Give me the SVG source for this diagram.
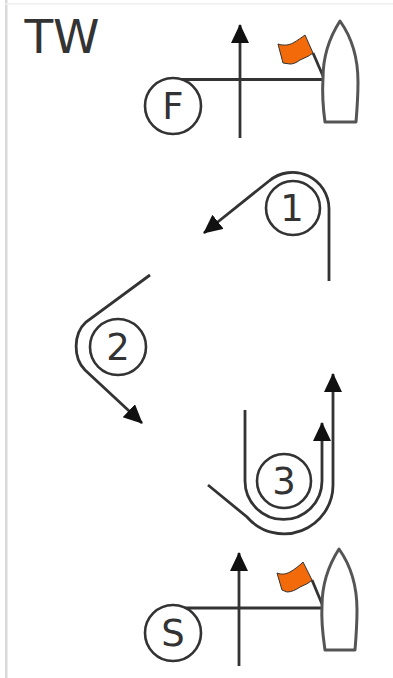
<svg xmlns="http://www.w3.org/2000/svg" width="393" height="678" viewBox="0 0 393 678">
<style>
.l{fill:none;stroke:#333;stroke-width:2.8;stroke-linecap:butt}
.b{fill:#fff;stroke:#555;stroke-width:3;stroke-linejoin:round}
.c{fill:#fff;stroke:#333;stroke-width:2.6}
.fl{fill:#f26a0a;stroke:#333;stroke-width:1;stroke-linejoin:round}
.t{font-family:"DejaVu Sans",Verdana,sans-serif;fill:#333;text-anchor:middle}
.n{font-size:37px}
</style>
<defs>
<marker id="a" markerUnits="userSpaceOnUse" markerWidth="20" markerHeight="20" refX="18" refY="9" orient="auto">
<path d="M0,0 L19,9 L0,18 Z" fill="#111"/>
</marker>
</defs>
<rect width="393" height="678" fill="#fff"/>
<rect x="5" y="0" width="2.5" height="678" fill="#d9d9d9"/>
<rect x="5" y="3" width="388" height="1.5" fill="#f0f0f0"/>
<text id="title" class="t" x="62" y="53" font-size="47">TW</text>
<g id="connectors">
<path class="l" d="M240,138 V25" marker-end="url(#a)"/>
<path class="l" d="M165,79.5 H323"/>
<path class="l" d="M329,281 V209 A36.5,36.5 0 0 0 269,181 L204,233" marker-end="url(#a)"/>
<path class="l" d="M150,275 L86,322 C73,334 73,358 85,370 L142,423" marker-end="url(#a)"/>
<path class="l" d="M245,410 V481 A38.5,38.5 0 0 0 322,481 V423" marker-end="url(#a)"/>
<path class="l" d="M208,485 L247,517 A49,49 0 0 0 333,484 V374" marker-end="url(#a)"/>
<path class="l" d="M239,666 V553" marker-end="url(#a)"/>
<path class="l" d="M165,608 H322"/>
</g>
<g id="boat-top">
<path class="l" d="M313,53 L323,76"/>
<path class="b" d="M340,21 C350,35 358,55 358,82 C358,98 357,110 356,122 H325 C323,108 322,95 323,78 C323,55 331,35 340,21 Z"/>
<path class="fl" d="M278,44 C284,46 289,45 293,43 C298,40 301,38 305,35 L313,53 C308,57 304,58 300,60 C296,63 293,64 290,64 L283,63 Z"/>
</g>
<g id="node-F">
<circle class="c" cx="173" cy="106" r="28"/>
<text class="t n" x="173" y="119">F</text>
</g>
<g id="node-1">
<circle class="c" cx="293" cy="208" r="27"/>
<text class="t n" x="292" y="221">1</text>
</g>
<g id="node-2">
<circle class="c" cx="118" cy="347" r="28"/>
<text class="t n" x="118" y="360">2</text>
</g>
<g id="node-3">
<circle class="c" cx="284" cy="481" r="27"/>
<text class="t n" x="284" y="494">3</text>
</g>
<g id="boat-bottom">
<path class="l" d="M312,580 L322,604"/>
<path class="b" d="M339,549 C349,563 357,583 357,610 C357,626 356,638 355,650 H325 C323,636 321,623 322,606 C322,583 330,563 339,549 Z"/>
<path class="fl" d="M277,573 C282,575 286,574 290,572 C295,569 299,566 303,562 L312,580 C308,584 304,585 300,587 C296,590 291,592 287,592 L282,590 Z"/>
</g>
<g id="node-S">
<circle class="c" cx="173" cy="633" r="28"/>
<text class="t n" x="173" y="646">S</text>
</g>
</svg>
